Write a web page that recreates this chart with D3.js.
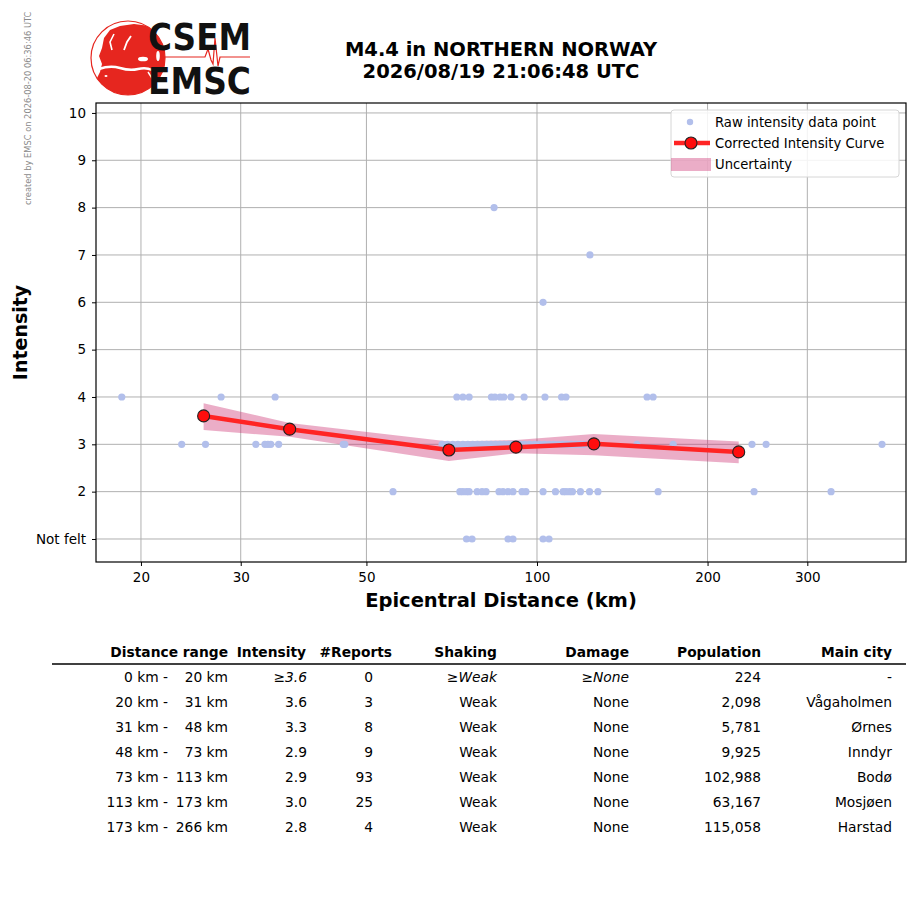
<!DOCTYPE html>
<html>
<head>
<meta charset="utf-8">
<script src="https://cdn.jsdelivr.net/npm/d3@7"></script>
<style>
  html, body { margin: 0; padding: 0; background: #fff; }
  svg { display: block; font-family: 'DejaVu Sans', sans-serif; }
</style>
</head>
<body>
<svg id="chart" width="915" height="905"></svg>
<script>
// raw reports, epicentral distance (km) per intensity level
const rawNotFelt = [75.1, 76.8, 88.9, 90.7, 102.5, 105.0];
const rawIntensity2 = [55.7, 73.1, 74.0, 75.1, 75.9, 78.4, 80.0, 81.3, 85.7, 87.1, 88.9, 90.7,
  94.1, 95.6, 102.5, 107.8, 111.2, 112.5, 114.1, 115.5, 119.3, 123.8, 128.1, 163.6, 241.6, 330.4];
const rawIntensity3 = [23.6, 26.0, 31.9, 33.1, 33.5, 33.9, 35.0, 45.5, 45.8,
  68, 69.5, 71, 72.5, 74, 75.5, 77, 78.5, 80, 81.5, 83, 84.5, 86, 87.5, 89, 90.5, 92, 93.5,
  95, 97, 99, 101, 103, 105, 107, 109, 111, 113, 115, 117, 119, 121,
  150.1, 173.9, 239.6, 253.7, 406.4];
const rawIntensity4 = [18.5, 27.7, 34.5, 72.2, 74.0, 75.9, 83.1, 84.3, 86.1, 87.4, 90.0, 94.9,
  103.3, 110.5, 112.5, 156.4, 160.3];
const rawIntensity6 = [102.5];
const rawIntensity7 = [124.0];
const rawIntensity8 = [84.0];

// corrected intensity curve and uncertainty
const curveDist = [25.8, 36.6, 69.9, 91.8, 126, 227];
const curveIntensity = [3.60, 3.32, 2.88, 2.94, 3.01, 2.84];
const bandLow = [3.30, 3.16, 2.65, 2.81, 2.77, 2.60];
const bandHigh = [3.87, 3.45, 3.06, 3.09, 3.22, 3.06];

const xTicks = [20, 30, 50, 100, 200, 300];
const yTicks = [1, 2, 3, 4, 5, 6, 7, 8, 9, 10];
const yTickLabels = ['Not felt', '2', '3', '4', '5', '6', '7', '8', '9', '10'];

// summary table
const tableHeaders = ['Distance range', 'Intensity', '#Reports', 'Shaking', 'Damage', 'Population', 'Main city'];
const rangeFrom = ['0 km -', '20 km -', '31 km -', '48 km -', '73 km -', '113 km -', '173 km -'];
const rangeTo = ['20 km', '31 km', '48 km', '73 km', '113 km', '173 km', '266 km'];
const tableIntensity = ['≥3.6', '3.6', '3.3', '2.9', '2.9', '3.0', '2.8'];
const tableReports = ['0', '3', '8', '9', '93', '25', '4'];
const tableShaking = ['≥Weak', 'Weak', 'Weak', 'Weak', 'Weak', 'Weak', 'Weak'];
const tableDamage = ['≥None', 'None', 'None', 'None', 'None', 'None', 'None'];
const tablePopulation = ['224', '2,098', '5,781', '9,925', '102,988', '63,167', '115,058'];
const tableCity = ['-', 'Vågaholmen', 'Ørnes', 'Inndyr', 'Bodø', 'Mosjøen', 'Harstad'];

const svg = d3.select('#chart');

const plot = { left: 96, right: 906, top: 103, bottom: 562 };
const x = d3.scaleLog().domain([16.66, 448]).range([plot.left, plot.right]);
const y = d3.scaleLinear().domain([0.514, 10.21]).range([plot.bottom, plot.top]);

// ---- watermark
svg.append('text')
  .attr('transform', 'translate(31,205) rotate(-90)')
  .attr('font-size', 8.3)
  .attr('fill', '#8a8a8a')
  .text('created by EMSC on 2026-08-20 06:36:46 UTC');

// ---- logo
const logoRed = '#e6261f';
const logo = svg.append('g');
logo.append('clipPath').attr('id', 'globe')
  .append('circle').attr('cx', 128).attr('cy', 58).attr('r', 37);
const map = logo.append('g').attr('clip-path', 'url(#globe)');
map.append('path')
  .attr('fill', logoRed)
  .attr('d', 'M104,38 L110,30 L120,26 L134,24 L150,26 L166,34 L168,96 L94,96 L96,80 L100,72 L102,64 L99,56 L102,48 Z');
const sea = map.append('g').attr('fill', '#fff').attr('stroke', '#fff');
sea.append('path').attr('stroke-width', 2.4).attr('fill', 'none')
  .attr('d', 'M99,69 Q110,65 120,68 T138,69 T152,70');
sea.append('path').attr('stroke-width', 1.6).attr('fill', 'none')
  .attr('d', 'M112,50 L110,42 L114,34');
sea.append('path').attr('stroke-width', 1.8).attr('fill', 'none')
  .attr('d', 'M124,50 L127,42 L131,36');
sea.append('path').attr('stroke-width', 1.4).attr('fill', 'none')
  .attr('d', 'M148,72 L157,86');
sea.append('ellipse').attr('cx', 143).attr('cy', 59).attr('rx', 5).attr('ry', 2.3).attr('stroke', 'none');
sea.append('ellipse').attr('cx', 158).attr('cy', 56).attr('rx', 1.8).attr('ry', 5).attr('stroke', 'none');
sea.append('ellipse').attr('cx', 106).attr('cy', 76).attr('rx', 1.5).attr('ry', 1).attr('stroke', 'none');
logo.append('circle')
  .attr('cx', 128).attr('cy', 58).attr('r', 37)
  .attr('fill', 'none').attr('stroke', logoRed).attr('stroke-width', 1.2);
logo.append('polyline')
  .attr('points', '163,57 205,57 208,49 211,60 213,64 215,38 218,66 220,57 250,57')
  .attr('fill', 'none').attr('stroke', logoRed).attr('stroke-width', 1.2);
['CSEM', 'EMSC'].forEach((word, i) => {
  logo.append('text')
    .attr('x', 148).attr('y', 50 + i * 44)
    .attr('textLength', 103).attr('lengthAdjust', 'spacingAndGlyphs')
    .attr('font-weight', 'bold')
    .attr('font-size', 38).attr('fill', '#111')
    .text(word);
});

// ---- title
const title = svg.append('text')
  .attr('x', 501).attr('y', 56)
  .attr('text-anchor', 'middle')
  .attr('font-weight', 'bold').attr('font-size', 19.5);
title.append('tspan').attr('x', 501).text('M4.4 in NORTHERN NORWAY');
title.append('tspan').attr('x', 501).attr('dy', 22).text('2026/08/19 21:06:48 UTC');

// ---- grid
const grid = svg.append('g').attr('stroke', '#b0b0b0').attr('stroke-width', 1);
grid.selectAll('.gx').data(xTicks).join('line')
  .attr('x1', (d) => x(d)).attr('x2', (d) => x(d))
  .attr('y1', plot.top).attr('y2', plot.bottom);
grid.selectAll('.gy').data(yTicks).join('line')
  .attr('x1', plot.left).attr('x2', plot.right)
  .attr('y1', (d) => y(d)).attr('y2', (d) => y(d));

// ---- uncertainty band
const band = curveDist.map((d, i) => ({ d, lo: bandLow[i], hi: bandHigh[i] }));
svg.append('path')
  .datum(band)
  .attr('fill', 'rgb(205,50,115)')
  .attr('fill-opacity', 0.4)
  .attr('d', d3.area().x((p) => x(p.d)).y0((p) => y(p.lo)).y1((p) => y(p.hi)));

// ---- raw points
const rawLevels = [
  [1, rawNotFelt], [2, rawIntensity2], [3, rawIntensity3], [4, rawIntensity4],
  [6, rawIntensity6], [7, rawIntensity7], [8, rawIntensity8]
];
const rawPoints = rawLevels.flatMap(([level, dists]) => dists.map((d) => ({ d, level })));
svg.append('g').attr('fill', '#b2bfeb')
  .selectAll('circle').data(rawPoints).join('circle')
  .attr('cx', (p) => x(p.d)).attr('cy', (p) => y(p.level)).attr('r', 3.6);

// ---- corrected curve
const curve = curveDist.map((d, i) => ({ d, v: curveIntensity[i] }));
svg.append('path')
  .datum(curve)
  .attr('fill', 'none').attr('stroke', '#ff2424').attr('stroke-width', 4.5)
  .attr('stroke-linejoin', 'round')
  .attr('d', d3.line().x((p) => x(p.d)).y((p) => y(p.v)));
svg.append('g')
  .selectAll('circle').data(curve).join('circle')
  .attr('cx', (p) => x(p.d)).attr('cy', (p) => y(p.v)).attr('r', 6)
  .attr('fill', '#ff0d0d').attr('stroke', '#222').attr('stroke-width', 1.1);

// ---- frame and axes
svg.append('rect')
  .attr('x', plot.left).attr('y', plot.top)
  .attr('width', plot.right - plot.left).attr('height', plot.bottom - plot.top)
  .attr('fill', 'none').attr('stroke', '#000').attr('stroke-width', 1.2);

const xAxis = svg.append('g')
  .attr('transform', `translate(0,${plot.bottom})`)
  .call(d3.axisBottom(x).tickValues(xTicks).tickFormat(d3.format('d')).tickSize(4).tickPadding(6));
const yAxis = svg.append('g')
  .attr('transform', `translate(${plot.left},0)`)
  .call(d3.axisLeft(y).tickValues(yTicks).tickFormat((d, i) => yTickLabels[i]).tickSize(4).tickPadding(6));
[xAxis, yAxis].forEach((a) => {
  a.select('.domain').remove();
  a.selectAll('text').attr('font-family', 'DejaVu Sans').attr('font-size', 13.5).attr('fill', '#000');
  a.selectAll('line').attr('stroke', '#000').attr('stroke-width', 1);
});

svg.append('text')
  .attr('x', 501).attr('y', 607)
  .attr('text-anchor', 'middle')
  .attr('font-weight', 'bold').attr('font-size', 19.5)
  .text('Epicentral Distance (km)');
svg.append('text')
  .attr('transform', `translate(27,${(plot.top + plot.bottom) / 2}) rotate(-90)`)
  .attr('text-anchor', 'middle')
  .attr('font-weight', 'bold').attr('font-size', 19)
  .text('Intensity');

// ---- legend
const legend = svg.append('g').attr('transform', 'translate(671,110)');
legend.append('rect')
  .attr('width', 228).attr('height', 67).attr('rx', 3)
  .attr('fill', '#fff').attr('fill-opacity', 0.85)
  .attr('stroke', '#d6d6d6').attr('stroke-width', 1);
legend.append('circle').attr('cx', 19).attr('cy', 12).attr('r', 3.2).attr('fill', '#b2bfeb');
legend.append('line').attr('x1', 3).attr('x2', 39).attr('y1', 33).attr('y2', 33)
  .attr('stroke', '#ff2424').attr('stroke-width', 4.5);
legend.append('circle').attr('cx', 20).attr('cy', 33).attr('r', 6)
  .attr('fill', '#ff0d0d').attr('stroke', '#222').attr('stroke-width', 1.1);
legend.append('rect').attr('x', 0).attr('y', 48).attr('width', 40).attr('height', 13)
  .attr('fill', 'rgb(205,50,115)').attr('fill-opacity', 0.4);
['Raw intensity data point', 'Corrected Intensity Curve', 'Uncertainty'].forEach((t, i) => {
  legend.append('text')
    .attr('x', 44).attr('y', 17 + i * 21)
    .attr('font-size', 13.2)
    .text(t);
});

// ---- table
const table = svg.append('g').attr('font-size', 13.8).attr('text-anchor', 'end');
const headerRight = [228, 306, 392, 497, 629, 761, 892];
const colRight = [228, 307, 373, 497, 629, 761, 892];
table.selectAll('.hdr').data(tableHeaders).join('text')
  .attr('x', (d, i) => headerRight[i]).attr('y', 657)
  .attr('font-weight', 'bold')
  .text((d) => d);
table.append('line')
  .attr('x1', 52).attr('x2', 906).attr('y1', 664).attr('y2', 664)
  .attr('stroke', '#000').attr('stroke-width', 1.5);

const columns = [rangeTo, tableIntensity, tableReports, tableShaking, tableDamage, tablePopulation, tableCity];
rangeFrom.forEach((from, r) => {
  const rowY = 682 + r * 25;
  const italic = r === 0;
  table.append('text').attr('x', 168).attr('y', rowY).text(from);
  columns.forEach((col, c) => {
    const t = table.append('text').attr('x', colRight[c]).attr('y', rowY);
    const val = col[r];
    if (italic && val.startsWith('≥')) {
      t.append('tspan').text('≥');
      t.append('tspan').attr('font-style', 'italic').text(val.slice(1));
    } else {
      t.text(val);
    }
  });
});
</script>
</body>
</html>
